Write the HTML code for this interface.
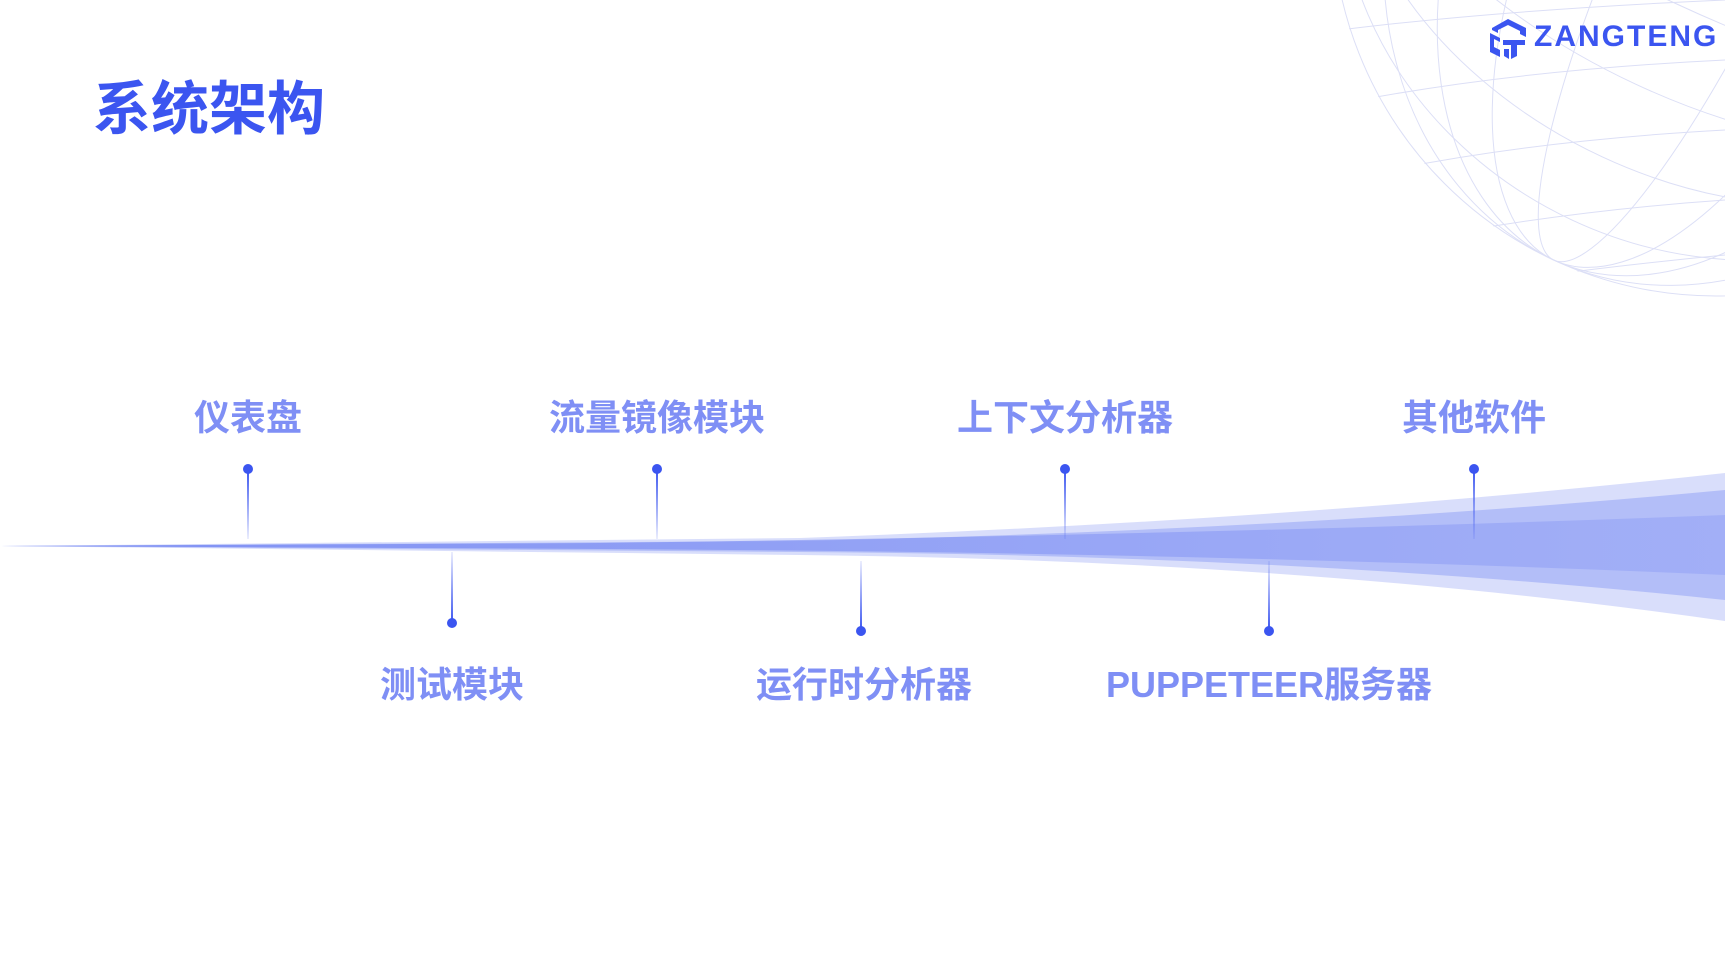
<!DOCTYPE html>
<html><head><meta charset="utf-8"><style>
html,body{margin:0;padding:0;background:#fff;}
body{width:1725px;height:964px;position:relative;overflow:hidden;font-family:"Liberation Sans","Noto Sans CJK SC",sans-serif;}
.t{position:absolute;font-weight:700;color:#7f8ff5;font-size:36px;line-height:40px;white-space:nowrap;transform:translateX(-50%);}
</style></head><body>
<svg width="1725" height="964" style="position:absolute;left:0;top:0">
<defs>
<linearGradient id="rb" x1="0" x2="1" y1="0" y2="0">
<stop offset="0" stop-color="#5d72f0" stop-opacity="0.9"/>
<stop offset="0.5" stop-color="#7a8cf3" stop-opacity="0.8"/>
<stop offset="1" stop-color="#8a9af5" stop-opacity="0.6"/>
</linearGradient>
<linearGradient id="lu" x1="0" x2="0" y1="0" y2="1"><stop offset="0" stop-color="#3b55f0"/><stop offset="1" stop-color="#3b55f0" stop-opacity="0.1"/></linearGradient>
<linearGradient id="ld" x1="0" x2="0" y1="1" y2="0"><stop offset="0" stop-color="#3b55f0"/><stop offset="1" stop-color="#3b55f0" stop-opacity="0.1"/></linearGradient>
<clipPath id="gc"><circle cx="1716" cy="-88" r="385"/></clipPath>
</defs>
<g clip-path="url(#gc)" stroke="#dcdff6" stroke-width="1" fill="none">
<circle cx="1716" cy="-88" r="384"/>
<ellipse cx="1716" cy="-88" rx="384" ry="100" transform="rotate(25 1716 -88)"/>
<ellipse cx="1716" cy="-88" rx="384" ry="190" transform="rotate(25 1716 -88)"/>
<ellipse cx="1716" cy="-88" rx="384" ry="270" transform="rotate(25 1716 -88)"/>
<ellipse cx="1716" cy="-88" rx="384" ry="340" transform="rotate(25 1716 -88)"/>
<ellipse cx="1716" cy="-88" rx="80" ry="384" transform="rotate(25 1716 -88)"/>
<ellipse cx="1716" cy="-88" rx="170" ry="384" transform="rotate(25 1716 -88)"/>
<ellipse cx="1716" cy="-88" rx="250" ry="384" transform="rotate(25 1716 -88)"/>
<ellipse cx="1716" cy="-88" rx="320" ry="384" transform="rotate(25 1716 -88)"/>
<path d="M1340 30 Q1500 10 1725 0 M1360 100 Q1520 70 1725 60 M1390 170 Q1540 140 1725 130 M1440 235 Q1580 210 1725 200 M1510 280 Q1620 265 1725 255"/>
</g>
<path d="M0 546 L800 538 Q1300 520 1725 473 L1725 621 Q1300 560 800 555 Z" fill="#c9d0fa" opacity="0.7"/>
<path d="M0 546 L800 541 Q1300 530 1725 490 L1725 600 Q1300 555 800 552 Z" fill="#a9b5f7" opacity="0.8"/>
<path d="M0 546 L600 543 Q1200 535 1725 515 L1725 575 Q1200 552 600 549 Z" fill="url(#rb)" opacity="0.7"/>
<g>
<rect x="247" y="469" width="2" height="70" fill="url(#lu)"/><circle cx="248" cy="469" r="5" fill="#3b55f0"/>
<rect x="656" y="469" width="2" height="70" fill="url(#lu)"/><circle cx="657" cy="469" r="5" fill="#3b55f0"/>
<rect x="1064" y="469" width="2" height="70" fill="url(#lu)"/><circle cx="1065" cy="469" r="5" fill="#3b55f0"/>
<rect x="1473" y="469" width="2" height="70" fill="url(#lu)"/><circle cx="1474" cy="469" r="5" fill="#3b55f0"/>
<rect x="451" y="552" width="2" height="71" fill="url(#ld)"/><circle cx="452" cy="623" r="5" fill="#3b55f0"/>
<rect x="860" y="561" width="2" height="70" fill="url(#ld)"/><circle cx="861" cy="631" r="5" fill="#3b55f0"/>
<rect x="1268" y="561" width="2" height="70" fill="url(#ld)"/><circle cx="1269" cy="631" r="5" fill="#3b55f0"/>
</g>
<g fill="#3b55f0" transform="translate(1490,19)">
<path d="M18 0 L36 9 L36 18 L30 15 L30 12 L18 6 L8 11 L8 14 L2 11 L2 9 Z"/>
<path d="M0 14 L10 19 L10 23 L4 20 L4 28 L10 31 L10 38 L0 33 Z"/>
<path d="M13 21 L35 21 L35 26 L27 26 L27 37 L21 40 L21 26 L13 26 Z"/>
<path d="M14 30 L19 30 L19 40 L14 37 Z"/>
</g>
</svg>
<div style="position:absolute;left:1534px;top:17px;font-size:30px;font-weight:700;color:#3b55f0;letter-spacing:2px;font-family:'Liberation Sans',sans-serif;line-height:40px">ZANGTENG</div>
<div style="position:absolute;left:93px;top:78px;font-size:58px;font-weight:700;color:#3b55f0;line-height:64px;">系统架构</div>
<div class="t" style="left:248px;top:398px">仪表盘</div>
<div class="t" style="left:657px;top:398px">流量镜像模块</div>
<div class="t" style="left:1065px;top:398px">上下文分析器</div>
<div class="t" style="left:1474px;top:398px">其他软件</div>
<div class="t" style="left:452px;top:665px">测试模块</div>
<div class="t" style="left:864px;top:665px">运行时分析器</div>
<div class="t" style="left:1269px;top:665px">PUPPETEER服务器</div>
</body></html>
